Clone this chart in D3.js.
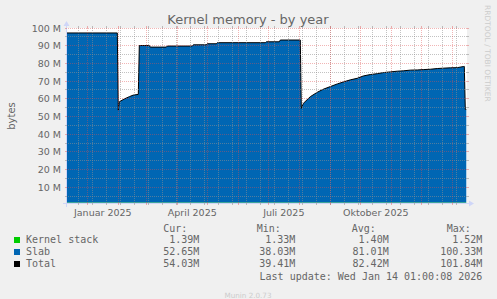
<!DOCTYPE html>
<html><head><meta charset="utf-8">
<script src="https://cdn.jsdelivr.net/npm/d3@7"></script>
<style>html,body{margin:0;padding:0;background:#F0F0F0;} svg{display:block;}</style>
</head><body>
<script>
// ---- data (values in M) ----
const dates = ["2024-12-11","2025-01-31","2025-02-01","2025-02-02","2025-02-07","2025-02-12","2025-02-16","2025-02-21",
  "2025-02-22","2025-03-04","2025-03-05","2025-03-21","2025-03-22","2025-04-16","2025-04-17","2025-04-30","2025-05-01",
  "2025-05-10","2025-05-11","2025-06-28","2025-06-29","2025-07-12","2025-07-13","2025-08-02","2025-08-03","2025-08-05",
  "2025-08-12","2025-08-19","2025-08-25","2025-09-01","2025-09-08","2025-09-14","2025-09-21","2025-09-28","2025-10-04",
  "2025-10-11","2025-10-18","2025-10-24","2025-10-31","2025-11-07","2025-11-13","2025-11-20","2025-11-27","2025-12-03",
  "2025-12-10","2025-12-17","2025-12-23","2025-12-30","2026-01-06","2026-01-12","2026-01-13","2026-01-14","2026-01-15"];
const total = [97.2,97.2,53.6,58.3,59.9,61.2,62.1,62.5,
  90.1,90.1,89.2,89.2,89.8,89.8,90.5,90.5,91.1,
  91.1,91.7,91.7,92.2,92.2,93.2,93.2,54.6,57.4,
  61.2,63.7,65.4,66.9,68.4,69.5,70.7,71.6,72.9,
  73.7,74.2,74.8,75.2,75.6,75.8,76.2,76.3,76.5,
  76.7,77.1,77.3,77.5,77.6,78.2,78.3,54.0,54.0];
const kernelStack = [1.40,1.40,1.35,1.36,1.37,1.38,1.38,1.38,
  1.42,1.42,1.41,1.41,1.41,1.41,1.41,1.41,1.41,
  1.41,1.41,1.41,1.41,1.41,1.42,1.42,1.35,1.36,
  1.37,1.38,1.38,1.39,1.39,1.39,1.39,1.40,1.40,
  1.40,1.40,1.40,1.40,1.40,1.40,1.40,1.40,1.40,
  1.40,1.40,1.40,1.40,1.40,1.40,1.40,1.39,1.39];

const yMajorTicks = [10,20,30,40,50,60,70,80,90,100];
const yMinorTicks = [5,15,25,35,45,55,65,75,85,95];
const xLabelTexts = ["Januar 2025","April 2025","Juli 2025","Oktober 2025"];
const xLabelMonths = ["2025-01-01","2025-04-01","2025-07-01","2025-10-01"];
const minorGridStart = "2024-12-23";

const legendNames = ["Kernel stack","Slab","Total"];
const legendColors = ["#00CC00","#0066B3","#000000"];
const curVals = ["1.39M","52.65M","54.03M"];
const minVals = ["1.33M","38.03M","39.41M"];
const avgVals = ["1.40M","81.01M","82.42M"];
const maxVals = ["1.52M","100.33M","101.84M"];

// ---- layout ----
const W = 497, H = 299;
const X0 = 67, X1 = 467, YT = 28, YB = 203;
const parse = d3.timeParse("%Y-%m-%d");
const tStart = parse("2024-12-11"), tEnd = parse("2026-01-15");
const x = d3.scaleTime().domain([tStart, tEnd]).range([66.3, 466.3]);
const y = d3.scaleLinear().domain([0, 100]).range([205, 28]);

const svg = d3.select("body").append("svg").attr("width", W).attr("height", H);
svg.append("rect").attr("width", W).attr("height", H).attr("fill", "#F0F0F0");
svg.append("rect").attr("x", X0).attr("y", YT).attr("width", X1 - X0).attr("height", YB - YT).attr("fill", "#FFFFFF");

const GRID = "rgba(143,143,143,0.55)", MGRID = "rgba(222,79,79,0.42)";
const defs = svg.append("defs");
function dotPattern(id, col, vertical) {
  const p = defs.append("pattern").attr("id", id).attr("patternUnits", "userSpaceOnUse")
    .attr("width", vertical ? 1 : 2).attr("height", vertical ? 2 : 1);
  p.append("rect").attr("width", 1).attr("height", 1).attr("fill", col);
}
dotPattern("hG", GRID, false); dotPattern("hM", MGRID, false);
dotPattern("vG", GRID, true); dotPattern("vM", MGRID, true);

const AX = "#CFD6F8";
// axes (under data)
svg.append("rect").attr("x", X0 - 4).attr("y", YB).attr("width", X1 - X0 + 8).attr("height", 1).attr("fill", AX);
svg.append("rect").attr("x", X0 - 1).attr("y", YT - 4).attr("width", 1).attr("height", YB - YT + 8).attr("fill", AX);
svg.append("path").attr("d", `M${X1+2},${YB-2.5}L${X1+2},${YB+3.5}L${X1+7},${YB+0.5}Z`).attr("fill", AX);
svg.append("path").attr("d", `M${X0-3.5},${YT-2}L${X0+2.5},${YT-2}L${X0-0.5},${YT-7}Z`).attr("fill", AX);

const rows = dates.map((d, i) => ({t: parse(d), total: total[i], ks: kernelStack[i]}));

svg.append("clipPath").attr("id", "clip").append("rect")
  .attr("x", X0).attr("y", YT - 1).attr("width", X1 - X0).attr("height", YB - YT + 1);
const g = svg.append("g").attr("clip-path", "url(#clip)");

g.append("path").datum(rows)
  .attr("d", d3.area().x(d => x(d.t)).y0(y(0)).y1(d => y(d.ks)))
  .attr("fill", legendColors[0]);
g.append("path").datum(rows)
  .attr("d", d3.area().x(d => x(d.t)).y0(d => y(d.ks)).y1(d => y(d.total)))
  .attr("fill", legendColors[1]);
g.append("path").datum(rows)
  .attr("d", d3.line().x(d => x(d.t)).y(d => y(d.total)))
  .attr("fill", "none").attr("stroke", "#000").attr("stroke-width", 1);

// grid on top (dotted via pixel patterns, solid ticks outside)
const grid = svg.append("g").attr("shape-rendering", "crispEdges");
function hline(v, col, pat) {
  const yy = Math.floor(y(v));
  grid.append("rect").attr("x", X0 - 2).attr("y", yy).attr("width", 2).attr("height", 1).attr("fill", col);
  grid.append("rect").attr("x", X1).attr("y", yy).attr("width", 2).attr("height", 1).attr("fill", col);
  grid.append("rect").attr("x", X0).attr("y", yy).attr("width", X1 - X0).attr("height", 1).attr("fill", `url(#${pat})`);
}
function vline(t, col, pat) {
  const xx = Math.floor(x(t));
  if (xx < X0 || xx >= X1) return;
  grid.append("rect").attr("x", xx).attr("y", YT - 2).attr("width", 1).attr("height", 2).attr("fill", col);
  grid.append("rect").attr("x", xx).attr("y", YB).attr("width", 1).attr("height", 2).attr("fill", col);
  grid.append("rect").attr("x", xx).attr("y", YT).attr("width", 1).attr("height", YB - YT).attr("fill", `url(#${pat})`);
}
yMinorTicks.forEach(v => hline(v, GRID, "hG"));
d3.timeDay.range(parse(minorGridStart), tEnd, 14).forEach(t => vline(t, GRID, "vG"));
yMajorTicks.forEach(v => hline(v, MGRID, "hM"));
d3.timeMonth.range(tStart, tEnd).forEach(t => vline(t, MGRID, "vM"));

// text
const FC = "#666666";
const sans = "DejaVu Sans", mono = "DejaVu Sans Mono";
svg.append("text").attr("x", 248).attr("y", 24).attr("text-anchor", "middle")
  .attr("font-family", sans).attr("font-size", 13).attr("fill", FC).text("Kernel memory - by year");

yMajorTicks.forEach(v => {
  svg.append("text").attr("x", 61).attr("y", y(v) + 3.5).attr("text-anchor", "end")
    .attr("font-family", sans).attr("font-size", 9.5).attr("fill", FC).text(v + " M");
});
xLabelTexts.forEach((s, i) => {
  const m = parse(xLabelMonths[i]);
  const mid = new Date((+m + +d3.timeMonth.offset(m, 1)) / 2);
  svg.append("text").attr("x", x(mid)).attr("y", 216).attr("text-anchor", "middle")
    .attr("font-family", sans).attr("font-size", 9.5).attr("fill", FC).text(s);
});
svg.append("text").attr("transform", "translate(15,116) rotate(-90)").attr("text-anchor", "middle")
  .attr("font-family", sans).attr("font-size", 10).attr("fill", FC).text("bytes");
svg.append("text").attr("transform", "translate(485,5) rotate(90)").attr("text-anchor", "start")
  .attr("font-family", sans).attr("font-size", 7.5).attr("fill", "#CCCCCC").text("RRDTOOL / TOBI OETIKER");

// legend
const lg = svg.append("g").attr("font-family", mono).attr("font-size", 10).attr("fill", FC);
const heads = [["Cur:", 163.3], ["Min:", 256.7], ["Avg:", 351.7], ["Max:", 446.7]];
heads.forEach(([s, xx]) => lg.append("text").attr("x", xx).attr("y", 232).text(s));
const rowY = [243, 255, 267];
const colEnds = [199.3, 295.3, 388.7, 482.3];
const cols = [curVals, minVals, avgVals, maxVals];
legendNames.forEach((n, i) => {
  svg.append("rect").attr("x", 14).attr("y", rowY[i] - 6).attr("width", 6).attr("height", 6).attr("fill", legendColors[i]);
  lg.append("text").attr("x", 26).attr("y", rowY[i]).text(n);
  cols.forEach((c, j) => lg.append("text").attr("x", colEnds[j]).attr("y", rowY[i]).attr("text-anchor", "end").text(c[i]));
});
lg.append("text").attr("x", 482.3).attr("y", 279.5).attr("text-anchor", "end").text("Last update: Wed Jan 14 01:00:08 2026");
svg.append("text").attr("x", 248).attr("y", 297.5).attr("text-anchor", "middle")
  .attr("font-family", sans).attr("font-size", 7.2).attr("fill", "#CCCCCC").text("Munin 2.0.73");
</script>
</body></html>
